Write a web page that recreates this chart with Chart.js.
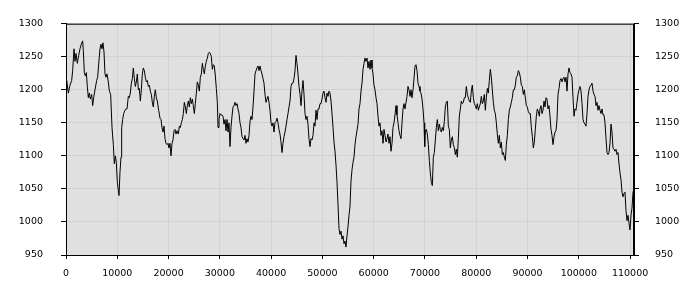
<!DOCTYPE html>
<html>
<head>
<meta charset="utf-8">
<script src="https://cdn.jsdelivr.net/npm/chart.js@4"></script>
<style>
  body { margin: 0; background: #fff; }
</style>
</head>
<body>
<canvas id="chart" width="700" height="300"></canvas>
<script>
// positions along the x axis
const xs = [
  0, 130, 455, 780, 1105, 1300, 1560, 1755, 1950, 2210, 2470,
  2730, 2990, 3250, 3380, 3575, 3770, 3965, 4160, 4355, 4550,
  4745, 5005, 5200, 5395, 5655, 5980, 6175, 6435, 6630, 6825,
  7020, 7215, 7410, 7605, 7800, 7995, 8255, 8450, 8710, 8970,
  9230, 9425, 9620, 9815, 10010, 10205, 10335, 10530, 10725, 10855,
  11050, 11245, 11505, 11700, 11895, 12155, 12350, 12545, 12740, 12935,
  13130, 13325, 13520, 13715, 13910, 14105, 14300, 14495, 14690, 14885,
  15080, 15275, 15470, 15665, 15860, 16055, 16250, 16445, 16640, 16835,
  17030, 17225, 17420, 17615, 17810, 18070,
  18330, 18525, 18720, 18915, 19110, 19305, 19500, 19695, 19890, 20085,
  20280, 20475, 20670, 20865, 21060, 21255, 21450, 21645,
  21905, 22100, 22295, 22490, 22685, 22880, 23075, 23270, 23465, 23660,
  23855, 24050, 24245, 24440, 24635, 24830, 25025, 25220, 25415, 25610,
  25805, 26000, 26195, 26390, 26585, 26780, 26975, 27170, 27365, 27560,
  27755, 27950, 28145, 28340, 28535, 28730, 28925, 29120, 29315, 29510,
  29640, 29835, 30030, 30225, 30420, 30615, 30810, 31005, 31200, 31395,
  31590, 31785, 31980, 32175, 32370, 32565, 32760, 32955, 33150, 33345,
  33540, 33735, 33930, 34125, 34320, 34515, 34710, 34905, 35100, 35295,
  35490, 35685, 35880, 36075, 36270, 36465, 36660,
  36855, 37050, 37245, 37440, 37635, 37830, 38025, 38220, 38415, 38610,
  38805, 39000, 39195, 39390, 39585, 39780, 39975, 40170, 40365, 40560,
  40755, 40950, 41145, 41340, 41535, 41730, 41925, 42120, 42315, 42510,
  42705, 42900, 43095, 43290, 43485, 43680, 43875, 44070, 44265, 44460,
  44655, 44850, 45045, 45240, 45435, 45630, 45825, 46020, 46215, 46410,
  46605, 46800, 46995, 47190, 47385, 47580, 47775, 47970, 48165, 48360,
  48555, 48750, 48945, 49140, 49335, 49530, 49725, 49920, 50115, 50310,
  50505, 50700, 50895, 51090, 51285, 51480, 51675, 51870, 52065, 52260,
  52455, 52650, 52845, 53040, 53235, 53430, 53625, 53820, 54015, 54210,
  54405, 54600, 54795, 54990, 55185,
  55380, 55575, 55770, 55965, 56160, 56355, 56550, 56745, 56940, 57135,
  57330, 57525, 57720, 57915, 58110, 58305, 58500, 58695, 58890, 59085,
  59280, 59475, 59670, 59865, 60060, 60255, 60450, 60645, 60840, 61035,
  61230, 61425, 61620, 61815, 62010, 62205, 62400, 62595, 62790, 62985,
  63180, 63375, 63570, 63765, 63960, 64155, 64350, 64545, 64740, 64935,
  65130, 65325, 65520, 65715, 65910, 66105, 66300, 66495, 66690, 66885,
  67080, 67275, 67470, 67665, 67860, 68055, 68250, 68445, 68640, 68835,
  69030, 69225, 69420, 69615, 69810, 69940, 70070,
  70265, 70460, 70655, 70850, 71045, 71240, 71435, 71630, 71825, 72020,
  72215, 72410, 72605, 72800, 72995, 73190, 73385, 73580, 73775,
  73970, 74165, 74360, 74555, 74750, 74945, 75140, 75335, 75530, 75725,
  75920, 76115, 76310, 76505, 76700, 76895, 77090, 77285, 77480, 77675,
  77870, 78065, 78260, 78455, 78650, 78845, 79040, 79235, 79430, 79625,
  79820, 80015, 80210, 80405, 80600, 80795, 80990, 81185, 81380, 81575,
  81770, 81965, 82160, 82355, 82550, 82745, 82940, 83135, 83330, 83525,
  83720, 83915, 84110, 84305, 84500, 84695, 84890, 85085, 85280, 85475,
  85670, 85865, 86060, 86255, 86450, 86645, 86840, 87035, 87230, 87425,
  87620, 87815, 88010, 88205, 88400, 88595, 88790, 88985, 89180, 89375,
  89570, 89765, 89960, 90155, 90350, 90545, 90740, 90935, 91130, 91325,
  91520, 91715, 91910, 92105, 92300,
  92430, 92625, 92820, 93015, 93210, 93405, 93600, 93795, 93990, 94185,
  94380, 94575, 94770, 94965, 95160, 95355, 95550, 95745, 95940, 96135,
  96330, 96525, 96720, 96915, 97110, 97305, 97500, 97695, 97890, 98085,
  98280, 98475, 98670, 98865, 99060, 99255, 99450, 99645, 99840, 100035,
  100230, 100425, 100620, 100815, 101010, 101205, 101400, 101595, 101790, 101985,
  102180, 102375, 102570, 102765, 102960, 103155, 103350, 103545, 103740, 103935,
  104130, 104325, 104520, 104715, 104910, 105105, 105300, 105495, 105690, 105885,
  106080, 106275, 106470, 106665, 106860, 107055, 107250, 107445, 107640, 107835,
  108030, 108225, 108420, 108615, 108810, 109005, 109200, 109395, 109590, 109785,
  109980, 110175, 110370, 110565, 110760
];

// values
const ys = [
  1200, 1214, 1195, 1207, 1214, 1229, 1262, 1243, 1255, 1240, 1252,
  1262, 1269, 1274, 1259, 1226, 1221, 1226, 1205, 1188, 1195,
  1186, 1193, 1176, 1188, 1200, 1214, 1219, 1245, 1262, 1269,
  1262, 1271, 1257, 1224, 1219, 1224, 1212, 1198, 1193, 1143,
  1117, 1088, 1100, 1090, 1060, 1048, 1040, 1076, 1098, 1143,
  1155, 1164, 1169, 1171, 1171, 1190, 1188, 1195, 1210, 1217,
  1233, 1217, 1205, 1212, 1224, 1200, 1202, 1183, 1200, 1224,
  1233, 1229, 1219, 1212, 1214, 1205, 1207, 1198, 1193, 1181,
  1174, 1190, 1200, 1188, 1183, 1169,
  1157, 1155, 1143, 1136, 1145, 1126, 1119, 1117, 1119, 1112,
  1119, 1100, 1119, 1124, 1138, 1140, 1133, 1138,
  1133, 1145, 1143, 1150, 1155, 1164, 1181, 1174, 1164, 1176,
  1183, 1174, 1188, 1179, 1186, 1176, 1164, 1179, 1195, 1212,
  1207, 1198, 1219, 1224, 1240, 1231, 1224, 1236, 1243, 1248,
  1255, 1257, 1255, 1250, 1231, 1238, 1236, 1221, 1202, 1181,
  1143, 1155, 1164, 1162, 1162, 1160, 1148, 1155, 1138, 1155,
  1136, 1150, 1114, 1143, 1160, 1174, 1176, 1181, 1176, 1179,
  1171, 1164, 1150, 1143, 1129, 1129, 1124, 1131, 1119, 1126,
  1121, 1131, 1152, 1160, 1155, 1174, 1198,
  1224, 1229, 1233, 1236, 1229, 1236, 1229, 1224, 1217, 1210,
  1193, 1181, 1186, 1190, 1181, 1169, 1150, 1145, 1150, 1136,
  1150, 1152, 1157, 1150, 1140, 1133, 1121, 1105, 1119, 1129,
  1136, 1145, 1155, 1164, 1174, 1183, 1205, 1210, 1210, 1217,
  1229, 1252, 1240, 1224, 1205, 1193, 1176, 1198, 1214, 1193,
  1164, 1155, 1160, 1148, 1126, 1114, 1126, 1124, 1131, 1150,
  1145, 1169, 1155, 1171, 1171, 1179, 1179, 1186, 1195, 1198,
  1188, 1181, 1195, 1190, 1198, 1195, 1183, 1164, 1143, 1121,
  1107, 1086, 1060, 1026, 990, 981, 986, 974, 979, 967,
  971, 962, 979, 993, 1010,
  1024, 1062, 1079, 1090, 1098, 1117, 1129, 1138, 1148, 1171,
  1179, 1198, 1210, 1231, 1240, 1248, 1243, 1248, 1233, 1243,
  1231, 1245, 1233, 1224, 1207, 1200, 1188, 1179, 1160, 1145,
  1150, 1131, 1138, 1119, 1140, 1131, 1121, 1126, 1133, 1119,
  1129, 1107, 1119, 1143, 1150, 1162, 1176, 1162, 1150, 1138,
  1131, 1126, 1150, 1171, 1179, 1171, 1181, 1190, 1205, 1200,
  1190, 1200, 1188, 1200, 1217, 1236, 1238, 1229, 1210, 1205,
  1198, 1195, 1186, 1171, 1150, 1114, 1138,
  1140, 1133, 1117, 1093, 1074, 1060, 1055, 1098, 1105, 1124,
  1143, 1155, 1138, 1148, 1140, 1136, 1143, 1138, 1152,
  1174, 1181, 1183, 1145, 1140, 1112, 1124, 1129, 1117, 1112,
  1102, 1110, 1098, 1126, 1160, 1171, 1183, 1179, 1181, 1188,
  1188, 1205, 1193, 1188, 1183, 1181, 1198, 1207, 1188, 1179,
  1176, 1171, 1179, 1169, 1174, 1179, 1190, 1179, 1183, 1193,
  1169, 1188, 1202, 1195, 1214, 1231, 1219, 1200, 1181, 1169,
  1164, 1150, 1133, 1119, 1131, 1112, 1121, 1102, 1105, 1098,
  1093, 1117, 1131, 1155, 1169, 1174, 1181, 1188, 1200, 1200,
  1207, 1219, 1221, 1229, 1226, 1219, 1207, 1205, 1193, 1200,
  1188, 1176, 1174, 1167, 1164, 1164, 1143, 1129, 1112, 1121,
  1140, 1160, 1171, 1167, 1160,
  1171, 1176, 1164, 1169, 1183, 1174, 1188, 1186, 1171, 1176,
  1160, 1140, 1131, 1117, 1129, 1136, 1138, 1155, 1193, 1202,
  1214, 1217, 1212, 1217, 1219, 1212, 1219, 1198, 1224, 1233,
  1226, 1224, 1219, 1188, 1160, 1171, 1169, 1181, 1193, 1200,
  1205, 1198, 1179, 1155, 1150, 1148, 1145, 1164, 1190, 1200,
  1205, 1207, 1210, 1198, 1193, 1190, 1176, 1181, 1169, 1176,
  1169, 1164, 1171, 1162, 1162, 1150, 1126, 1105, 1102, 1105,
  1119, 1148, 1136, 1112, 1110, 1107, 1110, 1102, 1105, 1088,
  1074, 1064, 1045, 1038, 1043, 1045, 1017, 1002, 1010, 998,
  988, 1010, 1021, 1045, 1050
];

const xTicks = [0, 10000, 20000, 30000, 40000, 50000, 60000, 70000, 80000, 90000, 100000, 110000];
const yTicks = [950, 1000, 1050, 1100, 1150, 1200, 1250, 1300];

if (xs.length !== ys.length) console.warn("length mismatch", xs.length, ys.length);
const points = xs.map((x, i) => ({ x: x, y: ys[i] }));

// gray plot background + black frame
const plotFrame = {
  id: "plotFrame",
  beforeDraw(chart) {
    const a = chart.chartArea;
    const ctx = chart.ctx;
    ctx.save();
    ctx.fillStyle = "#e0e0e0";
    ctx.fillRect(a.left, a.top, a.right - a.left, a.bottom - a.top);
    ctx.restore();
  },
  afterDraw(chart) {
    const a = chart.chartArea;
    const ctx = chart.ctx;
    ctx.save();
    ctx.strokeStyle = "#000";
    ctx.lineWidth = 1;
    ctx.strokeRect(a.left + 0.5, a.top + 0.5, a.right - a.left - 1, a.bottom - a.top);
    ctx.restore();
  }
};

const font = { family: "DejaVu Sans", size: 9.5 };
const plain = (v) => String(v);

new Chart(document.getElementById("chart"), {
  type: "line",
  data: {
    datasets: [
      {
        data: points,
        borderColor: "#000",
        borderWidth: 1,
        pointRadius: 0,
        tension: 0,
        fill: false,
      },
    ],
  },
  options: {
    responsive: false,
    animation: false,
    parsing: false,
    layout: { padding: { top: 10, left: 0, right: 0, bottom: 0 } },
    plugins: { legend: { display: false }, tooltip: { enabled: false } },
    scales: {
      x: {
        type: "linear",
        min: 0,
        max: 110760,
        afterFit: (s) => { s.height = 45; },
        afterBuildTicks: (s) => { s.ticks = xTicks.map((v) => ({ value: v })); },
        ticks: { color: "#000", font: font, padding: 9, maxRotation: 0, autoSkip: false, callback: plain },
        grid: { color: "#d2d2d2", tickColor: "#000", tickLength: 4 },
        border: { color: "#000" },
      },
      y: {
        position: "left",
        min: 950,
        max: 1300,
        afterFit: (s) => { s.width = 66; },
        afterBuildTicks: (s) => { s.ticks = yTicks.map((v) => ({ value: v })); },
        ticks: { color: "#000", font: font, padding: 18, callback: plain },
        grid: { color: "#d2d2d2", tickColor: "#000", tickLength: 5 },
        border: { color: "#000" },
      },
      y2: {
        position: "right",
        min: 950,
        max: 1300,
        afterFit: (s) => { s.width = 66; },
        afterBuildTicks: (s) => { s.ticks = yTicks.map((v) => ({ value: v })); },
        ticks: { color: "#000", font: font, padding: 16, callback: plain },
        grid: { drawOnChartArea: false, tickColor: "#000", tickLength: 5 },
        border: { color: "#000" },
      },
    },
  },
  plugins: [plotFrame],
});
</script>
</body>
</html>
